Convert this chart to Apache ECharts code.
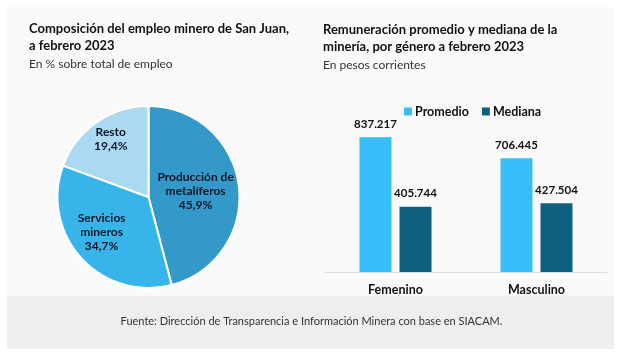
<!DOCTYPE html>
<html><head><meta charset="utf-8">
<script src="https://cdn.jsdelivr.net/npm/echarts@6/dist/echarts.min.js"></script>
<style>html,body{margin:0;padding:0;background:#fff}#c{width:623px;height:356px}</style>
</head><body><div id="c"></div>
<script>
const pieNames = ['Producción de\nmetalíferos', 'Servicios\nmineros', 'Resto'];
const pieValues = [45.9, 34.7, 19.4];
const pieColors = ['#3299c9', '#37b5ea', '#acd9f2'];
const categories = ['Femenino', 'Masculino'];
const promedio = [837217, 706445];
const mediana = [405744, 427504];
const seriesNames = ['Promedio', 'Mediana'];

const F = 'Lato, sans-serif';
const fmtNum = v => String(v).replace(/\B(?=(\d{3})+(?!\d))/g, '.');
const fmtPct = v => v.toFixed(1).replace('.', ',') + '%';
const offsets = [[-1, 0], [-11, 2], [-10, -18]];

const chart = echarts.init(document.getElementById('c'));
chart.setOption({
  backgroundColor: '#ffffff',
  animation: false,
  textStyle: { fontFamily: F },
  graphic: [
    { type: 'rect', z: -10, shape: { x: 7, y: 7, width: 607, height: 342 }, style: { fill: '#fafafa' } },
    { type: 'rect', z: -9, shape: { x: 7, y: 296, width: 607, height: 53 }, style: { fill: '#eeeeee' } }
  ],
  title: [
    { text: 'Composición del empleo minero de San Juan,\na febrero 2023', subtext: 'En % sobre total de empleo',
      left: 29, top: 20, padding: 0, itemGap: 2,
      textStyle: { fontFamily: F, fontSize: 13, fontWeight: 'bold', color: '#111', lineHeight: 17 },
      subtextStyle: { fontFamily: F, fontSize: 12, color: '#333', lineHeight: 16 } },
    { text: 'Remuneración promedio y mediana de la\nminería, por género a febrero 2023', subtext: 'En pesos corrientes',
      left: 323, top: 21, padding: 0, itemGap: 2,
      textStyle: { fontFamily: F, fontSize: 13, fontWeight: 'bold', color: '#111', lineHeight: 17 },
      subtextStyle: { fontFamily: F, fontSize: 12, color: '#333', lineHeight: 16 } },
    { text: 'Fuente: Dirección de Transparencia e Información Minera con base en SIACAM.',
      left: 'center', top: 316, padding: 0,
      textStyle: { fontFamily: F, fontSize: 11, fontWeight: 'normal', color: '#333' } }
  ],
  legend: {
    data: seriesNames, left: 399, top: 100, itemWidth: 8, itemHeight: 8, itemGap: 13, icon: 'rect',
    textStyle: { fontFamily: F, fontSize: 12.5, fontWeight: 'bold', color: '#111', padding: [0, 0, 0, -2] }
  },
  grid: { left: 325, right: 16, top: 111, bottom: 84 },
  xAxis: {
    type: 'category', data: categories,
    axisLine: { lineStyle: { color: '#dddddd' } }, axisTick: { show: false },
    axisLabel: { margin: 11, fontFamily: F, fontSize: 12.5, fontWeight: 'bold', color: '#111' }
  },
  yAxis: { type: 'value', min: 0, max: 1000000, show: false, splitLine: { show: false } },
  series: [
    { type: 'pie', center: [148.5, 197], radius: [0, 91], startAngle: 90, clockwise: true,
      itemStyle: { borderColor: '#ffffff', borderWidth: 2 },
      label: { position: 'inside', fontFamily: F, fontSize: 12, fontWeight: 'bold', color: '#0a1626', lineHeight: 14,
        formatter: p => p.name + '\n' + fmtPct(p.value) },
      labelLine: { show: false }, emphasis: { disabled: true },
      data: pieNames.map((n, i) => ({ name: n, value: pieValues[i], itemStyle: { color: pieColors[i] },
        label: { offset: offsets[i] } })) },
    { type: 'bar', name: seriesNames[0], data: promedio, barWidth: 32, barGap: '25%', itemStyle: { color: '#37bdf8' },
      label: { show: true, position: 'top', distance: 7, fontFamily: F, fontSize: 11.5, fontWeight: 'bold', color: '#111', formatter: p => fmtNum(p.value) } },
    { type: 'bar', name: seriesNames[1], data: mediana, barWidth: 32, itemStyle: { color: '#0f6080' },
      label: { show: true, position: 'top', distance: 7, fontFamily: F, fontSize: 11.5, fontWeight: 'bold', color: '#111', formatter: p => fmtNum(p.value) } }
  ]
});
</script></body></html>
